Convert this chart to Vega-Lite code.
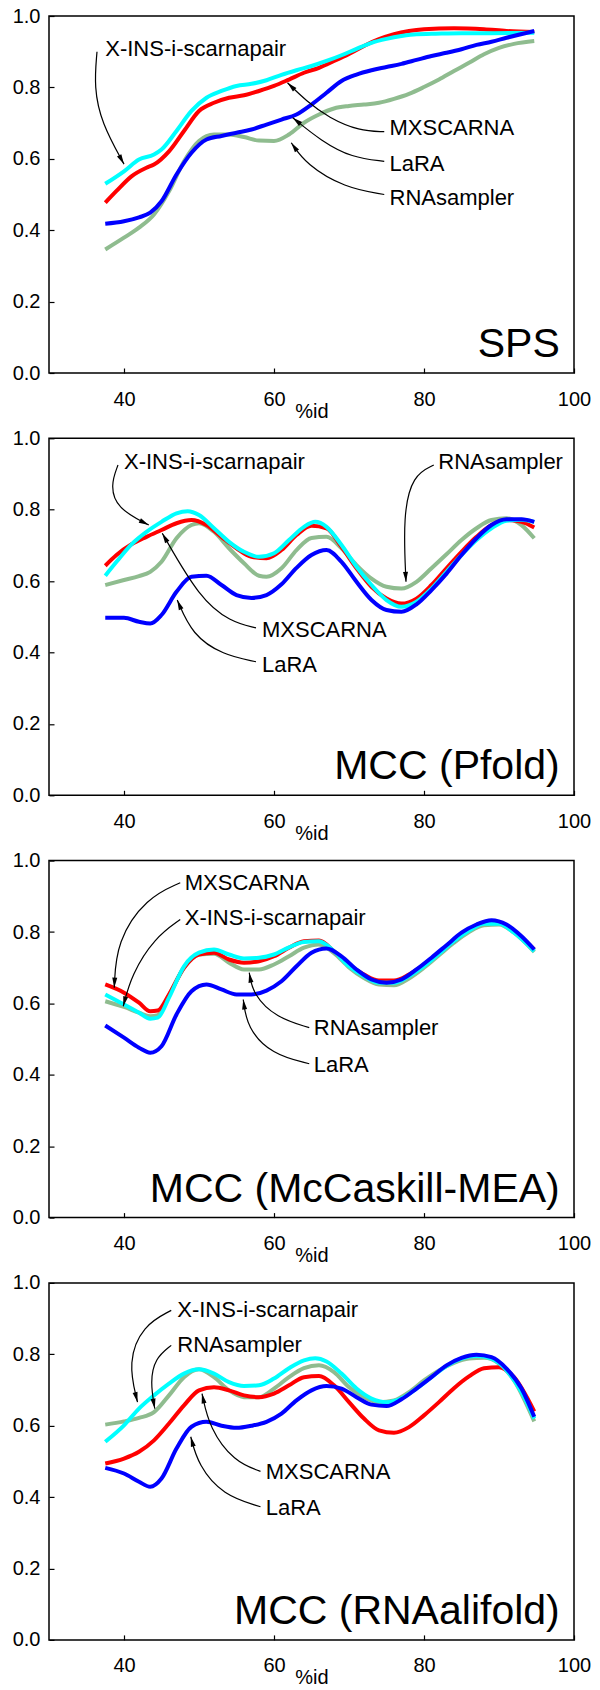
{
"$schema":"https://vega.github.io/schema/vega-lite/v6.json",
"autosize":{"type":"pad"},
"padding":{"left":11,"top":5,"right":0,"bottom":0},
"background":"white",
"bounds":"flush",
"spacing":65.3,
"config":{
 "font":"Liberation Sans",
 "view":{"stroke":"#000","strokeWidth":1.5},
 "axis":{"grid":false,"domain":false,"labelFontSize":20,"labelColor":"#000","tickColor":"#000","tickSize":-5,"tickWidth":1.2,"labelFlush":false,"labelOverlap":false,"titleFontSize":20,"titleFontWeight":"normal","titleColor":"#000"},
 "axisX":{"labelPadding":21,"titleY":44,"titleBaseline":"alphabetic"},
 "axisY":{"labelPadding":14}
},
"datasets":{
"curves":[
{"p":"SPS","s":"RNAsampler","x":[37.5,40,42,44,46,48,50,52,54,56,58,60,62,64,66,68,70,72,74,76,78,80,82,84,86,88,90,92,94.7],"y":[0.346,0.379,0.407,0.444,0.509,0.593,0.65,0.668,0.668,0.661,0.651,0.65,0.668,0.701,0.724,0.741,0.748,0.752,0.757,0.768,0.782,0.801,0.822,0.846,0.869,0.893,0.911,0.922,0.93]},
{"p":"SPS","s":"MXSCARNA","x":[37.5,39,41,43,44,46,48,50,52,54,56,58,60,62,64,66,68,70,72,74,76,78,80,84,88,91,94.7],"y":[0.477,0.51,0.551,0.575,0.584,0.621,0.678,0.734,0.757,0.771,0.778,0.79,0.804,0.822,0.841,0.855,0.874,0.894,0.916,0.935,0.949,0.958,0.963,0.966,0.963,0.958,0.955]},
{"p":"SPS","s":"X-INS-i-scarnapair","x":[37.5,40,42,44,45,47,49,51,53,55,57,59,61,63,65,67,69,71,73,75,77,79,81,85,89,94.7],"y":[0.53,0.565,0.598,0.612,0.626,0.678,0.734,0.771,0.79,0.804,0.81,0.82,0.835,0.848,0.86,0.874,0.89,0.908,0.925,0.936,0.944,0.949,0.95,0.952,0.952,0.953]},
{"p":"SPS","s":"LaRA","x":[37.5,40,42,43.5,45,47,49,51,53,55,57,59,61,63,65,67,69,71,73,75,77,79,81,83,85,87,89,91,94.7],"y":[0.418,0.425,0.436,0.449,0.481,0.556,0.617,0.654,0.664,0.673,0.682,0.696,0.71,0.724,0.752,0.785,0.818,0.836,0.848,0.857,0.866,0.877,0.888,0.897,0.907,0.919,0.928,0.939,0.958]},
{"p":"Pfold","s":"RNAsampler","x":[37.5,40,42,43.5,45,47,49,50,52,54,56,58,59,61,63,65,67,69,71,73,75,77,79,81,83,85,87,89,91,93,94.7],"y":[0.589,0.603,0.614,0.626,0.654,0.72,0.757,0.762,0.738,0.692,0.65,0.615,0.612,0.636,0.687,0.721,0.724,0.692,0.645,0.607,0.584,0.579,0.598,0.636,0.675,0.715,0.748,0.771,0.776,0.757,0.72]},
{"p":"Pfold","s":"MXSCARNA","x":[37.5,39,41,43,45,47,49,51,53,55,57,59,61,63,65,67,69,71,73,75,77,79,81,83,85,87,89,91,93,94.7],"y":[0.643,0.673,0.703,0.724,0.743,0.762,0.771,0.757,0.724,0.692,0.668,0.664,0.687,0.729,0.755,0.748,0.696,0.636,0.584,0.551,0.537,0.551,0.589,0.636,0.682,0.724,0.757,0.771,0.766,0.75]},
{"p":"Pfold","s":"X-INS-i-scarnapair","x":[37.5,39,41,43,45,47,48.5,50,52,54,56,58,60,62,64,65.5,67,69,71,73,75,77,79,81,83,85,87,89,91,93,94.7],"y":[0.615,0.654,0.703,0.738,0.766,0.79,0.796,0.785,0.748,0.71,0.682,0.668,0.678,0.715,0.752,0.766,0.752,0.701,0.64,0.589,0.547,0.528,0.542,0.579,0.626,0.673,0.715,0.748,0.769,0.772,0.766]},
{"p":"Pfold","s":"LaRA","x":[37.5,40,42,43.5,45,47,49,51,53,55,57,59,61,63,65,67,69,71,73,75,77,79,81,83,85,87,89,91,93,94.7],"y":[0.497,0.497,0.486,0.481,0.505,0.57,0.612,0.615,0.589,0.561,0.553,0.561,0.591,0.637,0.673,0.687,0.654,0.598,0.547,0.519,0.514,0.535,0.575,0.621,0.673,0.72,0.757,0.773,0.773,0.766]},
{"p":"MEA","s":"RNAsampler","x":[37.5,40,42,43.5,44.5,46,48,50,52,54,56,58,60,62,64,66,68,70,72,74,76,78,80,82,84,86,88,90,92,94.7],"y":[0.606,0.59,0.574,0.564,0.567,0.623,0.7,0.737,0.739,0.714,0.695,0.695,0.709,0.732,0.756,0.765,0.741,0.701,0.671,0.653,0.651,0.67,0.7,0.735,0.77,0.8,0.819,0.821,0.798,0.744]},
{"p":"MEA","s":"MXSCARNA","x":[37.5,40,42,43.5,44.5,46,48,50,52,54,56,58,60,62,64,66,68,70,72,74,76,78,80,82,84,86,88,90,92,94.7],"y":[0.653,0.63,0.602,0.578,0.58,0.625,0.7,0.737,0.742,0.723,0.714,0.718,0.732,0.756,0.774,0.776,0.746,0.709,0.681,0.664,0.664,0.681,0.709,0.742,0.774,0.807,0.826,0.826,0.802,0.751]},
{"p":"MEA","s":"X-INS-i-scarnapair","x":[37.5,40,42,43.5,44.5,46,48,50,52,54,56,58,60,62,64,66,68,70,72,74,76,78,80,82,84,86,88,90,92,94.7],"y":[0.625,0.597,0.574,0.557,0.56,0.616,0.704,0.742,0.751,0.737,0.726,0.728,0.737,0.757,0.772,0.774,0.746,0.704,0.676,0.658,0.658,0.676,0.704,0.739,0.774,0.804,0.823,0.823,0.798,0.746]},
{"p":"MEA","s":"LaRA","x":[37.5,40,42,43.5,45,47,49,51,53,55,57,59,61,63,65,67,69,71,73,75,77,79,81,83,85,87,89,91,93,94.7],"y":[0.538,0.504,0.476,0.462,0.48,0.569,0.634,0.653,0.639,0.625,0.625,0.636,0.662,0.704,0.742,0.754,0.732,0.695,0.667,0.658,0.667,0.695,0.728,0.763,0.798,0.821,0.833,0.821,0.788,0.751]},
{"p":"Ali","s":"RNAsampler","x":[37.5,40,42,44,46,48,50,52,54,56,58,60,62,64,66,68,70,72,74,76,78,80,82,84,86,88,90,92,94.7],"y":[0.603,0.612,0.622,0.638,0.685,0.736,0.758,0.736,0.699,0.68,0.68,0.704,0.736,0.761,0.769,0.75,0.708,0.68,0.666,0.671,0.694,0.727,0.755,0.776,0.788,0.79,0.774,0.727,0.612]},
{"p":"Ali","s":"MXSCARNA","x":[37.5,40,42,44,46,48,50,52,54,56,58,60,62,64,66,68,70,72,74,76,78,80,82,84,86,88,90,92,94.7],"y":[0.494,0.508,0.527,0.559,0.606,0.657,0.699,0.708,0.699,0.685,0.68,0.69,0.713,0.736,0.739,0.713,0.666,0.62,0.587,0.58,0.596,0.629,0.666,0.705,0.738,0.761,0.764,0.736,0.64]},
{"p":"Ali","s":"X-INS-i-scarnapair","x":[37.5,40,42,44,46,48,50,52,54,56,58,60,62,64,65.5,67,69,71,73,75,77,79,81,83,85,87,89,91,93,94.7],"y":[0.555,0.601,0.648,0.685,0.718,0.746,0.758,0.746,0.722,0.711,0.713,0.732,0.761,0.783,0.789,0.78,0.746,0.704,0.676,0.666,0.677,0.704,0.736,0.767,0.788,0.795,0.788,0.755,0.694,0.62]},
{"p":"Ali","s":"LaRA","x":[37.5,40,42,43.5,45,47,49,51,53,55,57,59,61,63,65,67,69,71,73,75,77,79,81,83,85,87,89,91,93,94.7],"y":[0.482,0.466,0.443,0.429,0.452,0.536,0.597,0.611,0.6,0.594,0.6,0.611,0.634,0.671,0.699,0.711,0.704,0.68,0.659,0.655,0.674,0.704,0.736,0.769,0.79,0.799,0.792,0.76,0.704,0.625]}
],
"arrows":[
{"p":"SPS","a":1,"k":[0,1,2,3],"x":[36.4,36.0,37.0,40.0],"y":[0.9,0.8,0.7,0.585]},
{"p":"SPS","a":2,"k":[0,1,2,3,4],"x":[74.7,71.4,67.3,64.3,61.8],"y":[0.676,0.678,0.715,0.762,0.813]},
{"p":"SPS","a":3,"k":[0,1,2,3],"x":[74.7,70.4,66.3,62.5],"y":[0.593,0.603,0.65,0.715]},
{"p":"SPS","a":4,"k":[0,1,2,3],"x":[74.7,69.4,64.3,62.3],"y":[0.5,0.519,0.584,0.645]},
{"p":"Pfold","a":1,"k":[0,1,2,3],"x":[39.2,38.2,39.0,43.3],"y":[0.925,0.869,0.804,0.757]},
{"p":"Pfold","a":2,"k":[0,1,2,3],"x":[81.3,78.5,77.2,77.6],"y":[0.925,0.897,0.785,0.598]},
{"p":"Pfold","a":3,"k":[0,1,2,3],"x":[57.6,54.2,50.1,45.1],"y":[0.469,0.486,0.551,0.734]},
{"p":"Pfold","a":4,"k":[0,1,2,3],"x":[57.6,53.2,49.1,47.1],"y":[0.374,0.393,0.449,0.547]},
{"p":"MEA","a":1,"k":[0,1,2,3],"x":[47.5,43.0,39.0,38.7],"y":[0.938,0.896,0.774,0.644]},
{"p":"MEA","a":2,"k":[0,1,2,3],"x":[47.5,44.1,41.0,39.9],"y":[0.835,0.784,0.681,0.592]},
{"p":"MEA","a":3,"k":[0,1,2,3],"x":[64.7,60.3,57.2,56.7],"y":[0.532,0.56,0.625,0.686]},
{"p":"MEA","a":4,"k":[0,1,2,3],"x":[64.7,59.7,56.4,55.9],"y":[0.431,0.457,0.532,0.611]},
{"p":"Ali","a":1,"k":[0,1,2,3],"x":[46.3,42.5,40.5,41.8],"y":[0.923,0.881,0.778,0.666]},
{"p":"Ali","a":2,"k":[0,1,2,3],"x":[46.3,44.1,43.5,44.1],"y":[0.825,0.788,0.722,0.648]},
{"p":"Ali","a":3,"k":[0,1,2,3],"x":[58.2,54.7,51.4,50.4],"y":[0.472,0.499,0.592,0.69]},
{"p":"Ali","a":4,"k":[0,1,2,3],"x":[58.2,53.2,49.9,48.9],"y":[0.373,0.405,0.489,0.569]}
],
"heads":[
{"p":"SPS","x":40.0,"y":0.585,"ang":151},
{"p":"SPS","x":61.8,"y":0.813,"ang":314},
{"p":"SPS","x":62.5,"y":0.715,"ang":309},
{"p":"SPS","x":62.3,"y":0.645,"ang":325},
{"p":"Pfold","x":43.3,"y":0.757,"ang":117},
{"p":"Pfold","x":77.6,"y":0.598,"ang":177},
{"p":"Pfold","x":45.1,"y":0.734,"ang":330},
{"p":"Pfold","x":47.1,"y":0.547,"ang":337},
{"p":"MEA","x":38.7,"y":0.644,"ang":183},
{"p":"MEA","x":39.9,"y":0.592,"ang":194},
{"p":"MEA","x":56.7,"y":0.686,"ang":350},
{"p":"MEA","x":55.9,"y":0.611,"ang":352},
{"p":"Ali","x":41.8,"y":0.666,"ang":166},
{"p":"Ali","x":44.1,"y":0.648,"ang":170},
{"p":"Ali","x":50.4,"y":0.69,"ang":348},
{"p":"Ali","x":48.9,"y":0.569,"ang":345}
],
"labels":[
{"p":"SPS","t":"X-INS-i-scarnapair","x":37.5,"y":0.907},
{"p":"SPS","t":"MXSCARNA","x":75.4,"y":0.687},
{"p":"SPS","t":"LaRA","x":75.4,"y":0.586},
{"p":"SPS","t":"RNAsampler","x":75.4,"y":0.491},
{"p":"Pfold","t":"X-INS-i-scarnapair","x":40.0,"y":0.933},
{"p":"Pfold","t":"RNAsampler","x":81.9,"y":0.933},
{"p":"Pfold","t":"MXSCARNA","x":58.4,"y":0.463},
{"p":"Pfold","t":"LaRA","x":58.4,"y":0.364},
{"p":"MEA","t":"MXSCARNA","x":48.1,"y":0.938},
{"p":"MEA","t":"X-INS-i-scarnapair","x":48.1,"y":0.838},
{"p":"MEA","t":"RNAsampler","x":65.3,"y":0.53},
{"p":"MEA","t":"LaRA","x":65.3,"y":0.427},
{"p":"Ali","t":"X-INS-i-scarnapair","x":47.1,"y":0.923},
{"p":"Ali","t":"RNAsampler","x":47.1,"y":0.827},
{"p":"Ali","t":"MXSCARNA","x":58.9,"y":0.469},
{"p":"Ali","t":"LaRA","x":58.9,"y":0.37}
],
"titles":[
{"p":"SPS","t":"SPS","x":98.1,"y":0.045},
{"p":"Pfold","t":"MCC (Pfold)","x":98.1,"y":0.045},
{"p":"MEA","t":"MCC (McCaskill-MEA)","x":98.1,"y":0.045},
{"p":"Ali","t":"MCC (RNAalifold)","x":98.1,"y":0.045}
]
},
"vconcat":[
{"width":525,"height":357,"layer":[
 {"data":{"name":"curves"},"transform":[{"filter":"datum.p==='SPS'"},{"flatten":["x","y"]}],"mark":{"type":"line","strokeWidth":4,"interpolate":"monotone"},"encoding":{"x":{"field":"x","type":"quantitative","scale":{"domain":[30,100],"nice":false,"zero":false},"axis":{"values":[40,60,80,100],"title":"%id"}},"y":{"field":"y","type":"quantitative","scale":{"domain":[0,1],"nice":false},"axis":{"values":[0,0.2,0.4,0.6,0.8,1],"format":".1f","title":null}},"color":{"field":"s","type":"nominal","scale":{"domain":["RNAsampler","MXSCARNA","X-INS-i-scarnapair","LaRA"],"range":["#8fbc8f","#ff0000","#00ffff","#0000ff"]},"legend":null}}},
 {"data":{"name":"arrows"},"transform":[{"filter":"datum.p==='SPS'"},{"flatten":["x","y","k"]}],"mark":{"type":"line","interpolate":"basis","color":"#000","strokeWidth":1.2},"encoding":{"x":{"field":"x","type":"quantitative"},"y":{"field":"y","type":"quantitative"},"detail":{"field":"a"},"order":{"field":"k"}}},
 {"data":{"name":"heads"},"transform":[{"filter":"datum.p==='SPS'"}],"mark":{"type":"point","shape":"M0,0L-0.5,2L0.5,2Z","filled":true,"color":"#000","size":100,"opacity":1,"strokeWidth":0},"encoding":{"x":{"field":"x","type":"quantitative"},"y":{"field":"y","type":"quantitative"},"angle":{"field":"ang","type":"quantitative","scale":null}}},
 {"data":{"name":"labels"},"transform":[{"filter":"datum.p==='SPS'"}],"mark":{"type":"text","align":"left","baseline":"middle","fontSize":22,"color":"#000"},"encoding":{"x":{"field":"x","type":"quantitative"},"y":{"field":"y","type":"quantitative"},"text":{"field":"t"}}},
 {"data":{"name":"titles"},"transform":[{"filter":"datum.p==='SPS'"}],"mark":{"type":"text","align":"right","baseline":"alphabetic","fontSize":41,"color":"#000"},"encoding":{"x":{"field":"x","type":"quantitative"},"y":{"field":"y","type":"quantitative"},"text":{"field":"t"}}}
]},
{"width":525,"height":357,"layer":[
 {"data":{"name":"curves"},"transform":[{"filter":"datum.p==='Pfold'"},{"flatten":["x","y"]}],"mark":{"type":"line","strokeWidth":4,"interpolate":"monotone"},"encoding":{"x":{"field":"x","type":"quantitative","scale":{"domain":[30,100],"nice":false,"zero":false},"axis":{"values":[40,60,80,100],"title":"%id"}},"y":{"field":"y","type":"quantitative","scale":{"domain":[0,1],"nice":false},"axis":{"values":[0,0.2,0.4,0.6,0.8,1],"format":".1f","title":null}},"color":{"field":"s","type":"nominal","scale":{"domain":["RNAsampler","MXSCARNA","X-INS-i-scarnapair","LaRA"],"range":["#8fbc8f","#ff0000","#00ffff","#0000ff"]},"legend":null}}},
 {"data":{"name":"arrows"},"transform":[{"filter":"datum.p==='Pfold'"},{"flatten":["x","y","k"]}],"mark":{"type":"line","interpolate":"basis","color":"#000","strokeWidth":1.2},"encoding":{"x":{"field":"x","type":"quantitative"},"y":{"field":"y","type":"quantitative"},"detail":{"field":"a"},"order":{"field":"k"}}},
 {"data":{"name":"heads"},"transform":[{"filter":"datum.p==='Pfold'"}],"mark":{"type":"point","shape":"M0,0L-0.5,2L0.5,2Z","filled":true,"color":"#000","size":100,"opacity":1,"strokeWidth":0},"encoding":{"x":{"field":"x","type":"quantitative"},"y":{"field":"y","type":"quantitative"},"angle":{"field":"ang","type":"quantitative","scale":null}}},
 {"data":{"name":"labels"},"transform":[{"filter":"datum.p==='Pfold'"}],"mark":{"type":"text","align":"left","baseline":"middle","fontSize":22,"color":"#000"},"encoding":{"x":{"field":"x","type":"quantitative"},"y":{"field":"y","type":"quantitative"},"text":{"field":"t"}}},
 {"data":{"name":"titles"},"transform":[{"filter":"datum.p==='Pfold'"}],"mark":{"type":"text","align":"right","baseline":"alphabetic","fontSize":41,"color":"#000"},"encoding":{"x":{"field":"x","type":"quantitative"},"y":{"field":"y","type":"quantitative"},"text":{"field":"t"}}}
]},
{"width":525,"height":357,"layer":[
 {"data":{"name":"curves"},"transform":[{"filter":"datum.p==='MEA'"},{"flatten":["x","y"]}],"mark":{"type":"line","strokeWidth":4,"interpolate":"monotone"},"encoding":{"x":{"field":"x","type":"quantitative","scale":{"domain":[30,100],"nice":false,"zero":false},"axis":{"values":[40,60,80,100],"title":"%id"}},"y":{"field":"y","type":"quantitative","scale":{"domain":[0,1],"nice":false},"axis":{"values":[0,0.2,0.4,0.6,0.8,1],"format":".1f","title":null}},"color":{"field":"s","type":"nominal","scale":{"domain":["RNAsampler","MXSCARNA","X-INS-i-scarnapair","LaRA"],"range":["#8fbc8f","#ff0000","#00ffff","#0000ff"]},"legend":null}}},
 {"data":{"name":"arrows"},"transform":[{"filter":"datum.p==='MEA'"},{"flatten":["x","y","k"]}],"mark":{"type":"line","interpolate":"basis","color":"#000","strokeWidth":1.2},"encoding":{"x":{"field":"x","type":"quantitative"},"y":{"field":"y","type":"quantitative"},"detail":{"field":"a"},"order":{"field":"k"}}},
 {"data":{"name":"heads"},"transform":[{"filter":"datum.p==='MEA'"}],"mark":{"type":"point","shape":"M0,0L-0.5,2L0.5,2Z","filled":true,"color":"#000","size":100,"opacity":1,"strokeWidth":0},"encoding":{"x":{"field":"x","type":"quantitative"},"y":{"field":"y","type":"quantitative"},"angle":{"field":"ang","type":"quantitative","scale":null}}},
 {"data":{"name":"labels"},"transform":[{"filter":"datum.p==='MEA'"}],"mark":{"type":"text","align":"left","baseline":"middle","fontSize":22,"color":"#000"},"encoding":{"x":{"field":"x","type":"quantitative"},"y":{"field":"y","type":"quantitative"},"text":{"field":"t"}}},
 {"data":{"name":"titles"},"transform":[{"filter":"datum.p==='MEA'"}],"mark":{"type":"text","align":"right","baseline":"alphabetic","fontSize":41,"color":"#000"},"encoding":{"x":{"field":"x","type":"quantitative"},"y":{"field":"y","type":"quantitative"},"text":{"field":"t"}}}
]},
{"width":525,"height":357,"layer":[
 {"data":{"name":"curves"},"transform":[{"filter":"datum.p==='Ali'"},{"flatten":["x","y"]}],"mark":{"type":"line","strokeWidth":4,"interpolate":"monotone"},"encoding":{"x":{"field":"x","type":"quantitative","scale":{"domain":[30,100],"nice":false,"zero":false},"axis":{"values":[40,60,80,100],"title":"%id"}},"y":{"field":"y","type":"quantitative","scale":{"domain":[0,1],"nice":false},"axis":{"values":[0,0.2,0.4,0.6,0.8,1],"format":".1f","title":null}},"color":{"field":"s","type":"nominal","scale":{"domain":["RNAsampler","MXSCARNA","X-INS-i-scarnapair","LaRA"],"range":["#8fbc8f","#ff0000","#00ffff","#0000ff"]},"legend":null}}},
 {"data":{"name":"arrows"},"transform":[{"filter":"datum.p==='Ali'"},{"flatten":["x","y","k"]}],"mark":{"type":"line","interpolate":"basis","color":"#000","strokeWidth":1.2},"encoding":{"x":{"field":"x","type":"quantitative"},"y":{"field":"y","type":"quantitative"},"detail":{"field":"a"},"order":{"field":"k"}}},
 {"data":{"name":"heads"},"transform":[{"filter":"datum.p==='Ali'"}],"mark":{"type":"point","shape":"M0,0L-0.5,2L0.5,2Z","filled":true,"color":"#000","size":100,"opacity":1,"strokeWidth":0},"encoding":{"x":{"field":"x","type":"quantitative"},"y":{"field":"y","type":"quantitative"},"angle":{"field":"ang","type":"quantitative","scale":null}}},
 {"data":{"name":"labels"},"transform":[{"filter":"datum.p==='Ali'"}],"mark":{"type":"text","align":"left","baseline":"middle","fontSize":22,"color":"#000"},"encoding":{"x":{"field":"x","type":"quantitative"},"y":{"field":"y","type":"quantitative"},"text":{"field":"t"}}},
 {"data":{"name":"titles"},"transform":[{"filter":"datum.p==='Ali'"}],"mark":{"type":"text","align":"right","baseline":"alphabetic","fontSize":41,"color":"#000"},"encoding":{"x":{"field":"x","type":"quantitative"},"y":{"field":"y","type":"quantitative"},"text":{"field":"t"}}}
]}
]
}
